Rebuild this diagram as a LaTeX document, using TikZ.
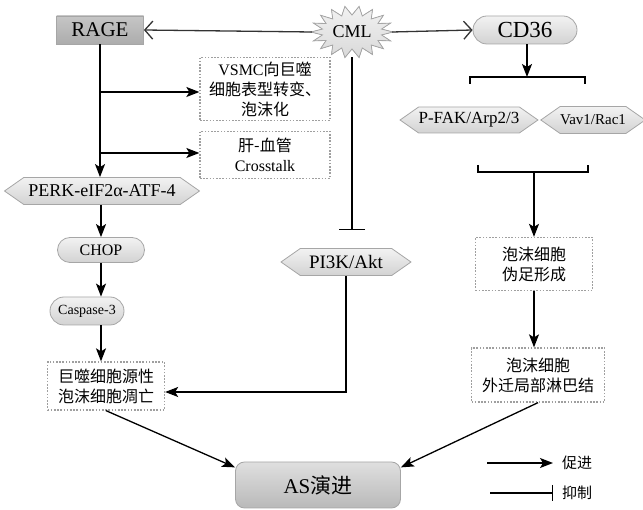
\documentclass[tikz,border=0pt]{standalone}
\usepackage{fontspec}
\setmainfont{Liberation Serif}
\newfontfamily\cjk{Noto Sans CJK SC}
\usetikzlibrary{arrows.meta,shapes.geometric,shapes.symbols,shapes.misc}
\tikzset{
  arr/.style={line width=1.3pt,-{Stealth[length=13pt,width=10pt,inset=3pt]}},
  inh/.style={line width=1.3pt,-{Bar[width=26pt,line width=1.3pt]}},
  openarr/.style={draw=gray!40!black,line width=1.3pt,-{Straight Barb[length=8pt,width=18pt,line width=1.3pt]}},
  pill/.style={rounded rectangle,draw=gray!70,line width=0.8pt,top color=gray!10,bottom color=gray!35,inner sep=0pt},
  hexa/.style={signal,signal to=west and east,signal pointer angle=70,draw=gray!70,line width=0.8pt,top color=gray!10,bottom color=gray!35,inner sep=0pt},
  dotbox/.style={draw=gray!75,line width=1.3pt,dash pattern=on 1.6pt off 1.6pt,inner sep=0pt,align=center,font=\cjk\fontsize{16}{20}\selectfont},
}
\begin{document}
\begin{tikzpicture}[x=1pt,y=-1pt]
\useasboundingbox (0,0) rectangle (643,510);
% starburst for CML
\filldraw[draw=gray!70,line width=0.8pt,top color=gray!10,bottom color=gray!30]
  plot[samples=37,domain=0:36,variable=\k]
  ({352+ifthenelse(mod(\k,2)==0,41,30)*cos(\k*10)},{32+ifthenelse(mod(\k,2)==0,26,17)*sin(\k*10)}) -- cycle;
\node[ellipse,minimum width=80pt,minimum height=50pt,inner sep=0pt,font=\fontsize{18}{18}\selectfont] (cml) at (352,32) {CML};
\node[rectangle,draw=gray!70,line width=0.8pt,top color=gray!45,bottom color=gray!65,minimum width=87pt,minimum height=28pt,inner sep=0pt,font=\fontsize{21}{21}\selectfont] (rage) at (100,30) {RAGE};
\node[pill,minimum width=104pt,minimum height=28pt,font=\fontsize{23}{23}\selectfont] (cd36) at (525,30) {CD36};
% left column
\node[dotbox,minimum width=130pt,minimum height=63pt] (vsmc) at (265,89) {{\rmfamily VSMC}向巨噬\\细胞表型转变、\\泡沫化};
\node[dotbox,minimum width=130pt,minimum height=47pt] (liver) at (265,155) {肝-血管\\{\rmfamily Crosstalk}};
\node[hexa,minimum width=195pt,minimum height=27pt,font=\fontsize{18}{18}\selectfont] (perk) at (102,191) {PERK-eIF2α-ATF-4};
\node[pill,minimum width=87pt,minimum height=25pt,font=\fontsize{16}{16}\selectfont] (chop) at (101,250) {CHOP};
\node[pill,minimum width=74pt,minimum height=28pt,font=\fontsize{14}{14}\selectfont] (casp) at (87,311) {Caspase-3};
\node[dotbox,minimum width=117pt,minimum height=48pt] (apop) at (106,386) {巨噬细胞源性\\泡沫细胞凋亡};
\node[hexa,minimum width=130pt,minimum height=27pt,font=\fontsize{19}{19}\selectfont] (pi3k) at (346,262) {PI3K/Akt};
% right column
\node[hexa,minimum width=128pt,minimum height=26pt,font=\fontsize{17}{17}\selectfont] (pfak) at (469,120) {P-FAK/Arp2/3};
\node[hexa,minimum width=99pt,minimum height=27pt,font=\fontsize{15}{15}\selectfont] (vav) at (593,120) {Vav1/Rac1};
\node[dotbox,minimum width=117pt,minimum height=53pt] (foam1) at (534,264) {泡沫细胞\\伪足形成};
\node[dotbox,minimum width=133pt,minimum height=54pt] (foam2) at (538,375) {泡沫细胞\\外迁局部淋巴结};
% AS
\node[rectangle,rounded corners=9pt,draw=gray!70,line width=0.8pt,top color=gray!25,bottom color=gray!55,minimum width=165pt,minimum height=46pt,inner sep=0pt,font=\fontsize{21}{21}\selectfont] (as) at (318,485) {AS{\cjk 演进}};
% brackets
\coordinate (brtop) at (527,77);
\coordinate (brbot) at (534,172);
\draw[line width=1.3pt] (470,84) -- (470,77) -- (585,77) -- (585,84);
\draw[line width=1.3pt] (478,165) -- (478,172) -- (588,172) -- (588,165);
% connectors
\draw[openarr] (cml.west) -- (rage.east);
\draw[openarr] (cml.east) -- (cd36.west);
\draw[inh,shorten >=18pt] (cml.south) -- (cml.south |- pi3k.north);
\draw[arr] (rage.south) -- (rage.south |- perk.north);
\coordinate (b1) at (100,92);
\coordinate (b2) at (100,153);
\draw[arr] (b1) -- (b1 -| vsmc.west);
\draw[arr] (b2) -- (b2 -| liver.west);
\draw[arr] (perk.south -| chop.south) -- (chop.north);
\draw[arr] (chop.south) -- (chop.south |- casp.north);
\draw[arr] (casp.south -| chop.south) -- (chop.south |- apop.north);
\draw[arr] (pi3k.south) |- ([yshift=-6pt]apop.east);
\draw[arr] (apop.south) -- (as.168);
\draw[arr] (cd36.south -| brtop) -- (brtop);
\draw[arr] (brbot) -- (brbot |- foam1.north);
\draw[arr] (foam1.south) -- (foam1.south |- foam2.north);
\draw[arr] (foam2.south) -- (as.12);
% legend
\coordinate (l1a) at (487,463);
\coordinate (l1b) at (553,463);
\coordinate (l2a) at (490,493);
\coordinate (l2b) at (553,493);
\draw[arr] (l1a) -- (l1b);
\draw[inh,-{Bar[width=16pt,line width=1.3pt]}] (l2a) -- (l2b);
\node[anchor=west,font=\cjk\fontsize{15}{15}\selectfont,inner sep=0pt] (lt1) at (562,463) {促进};
\node[anchor=west,font=\cjk\fontsize{15}{15}\selectfont,inner sep=0pt] (lt2) at (562,493) {抑制};
\end{tikzpicture}
\end{document}
